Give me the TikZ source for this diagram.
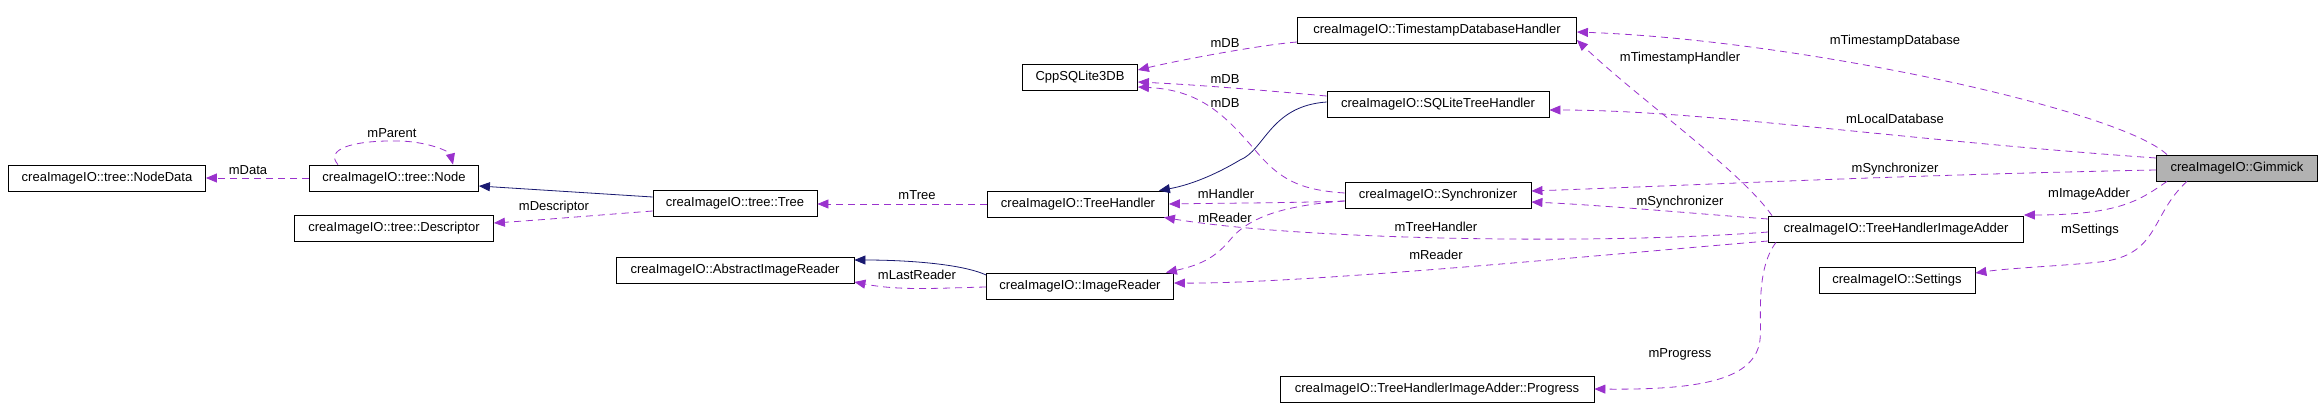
\documentclass[tikz,border=0pt]{standalone}
\usepackage{fontspec}
\setmainfont{Liberation Sans}
\usetikzlibrary{arrows.meta}
\definecolor{relcol}{RGB}{154,50,205}
\definecolor{inhcol}{RGB}{25,25,112}
\tikzset{
  cls/.style={draw, line width=0.8pt, minimum height=26pt, inner sep=0pt, font=\fontsize{13}{15}\selectfont},
  lbl/.style={inner sep=0.75pt, font=\fontsize{13}{15}\selectfont},
  uses/.style={draw=relcol, line width=0.8pt, dash pattern=on 7pt off 5pt, -{Triangle[length=11pt,width=9pt]}, arrows={-{Triangle[length=11pt,width=9pt,fill=relcol,color=relcol]}}},
  isa/.style={draw=inhcol, line width=0.8pt, -{Triangle[length=11pt,width=9pt,fill=inhcol,color=inhcol]}}
}
\begin{document}
\begin{tikzpicture}[x=1pt,y=1pt,yscale=-1,xscale=1]
\useasboundingbox (0,0) rectangle (2322,420);

% Classes
\node [cls, minimum width=197pt] (nodedata) at (107,178) {creaImageIO::tree::NodeData};
\node [cls, minimum width=169pt] (node) at (394,178) {creaImageIO::tree::Node};
\node [cls, minimum width=199pt] (descriptor) at (394,228) {creaImageIO::tree::Descriptor};
\node [cls, minimum width=164pt] (tree) at (735,203) {creaImageIO::tree::Tree};
\node [cls, minimum width=238pt] (abstractreader) at (735,270) {creaImageIO::AbstractImageReader};
\node [cls, minimum width=279pt] (timestamp) at (1437,30) {creaImageIO::TimestampDatabaseHandler};
\node [cls, minimum width=115pt] (cppdb) at (1080,77) {CppSQLite3DB};
\node [cls, minimum width=222pt] (sqlite) at (1438,104) {creaImageIO::SQLiteTreeHandler};
\node [cls, minimum width=186pt] (synchronizer) at (1438,195) {creaImageIO::Synchronizer};
\node [cls, minimum width=181pt] (treehandler) at (1078,204) {creaImageIO::TreeHandler};
\node [cls, minimum width=187pt] (imagereader) at (1080,286) {creaImageIO::ImageReader};
\node [cls, minimum width=314pt] (progress) at (1437,389) {creaImageIO::TreeHandlerImageAdder::Progress};
\node [cls, minimum width=161pt, fill=black!30] (gimmick) at (2237,168) {creaImageIO::Gimmick};
\node [cls, minimum width=255pt] (adder) at (1896,229) {creaImageIO::TreeHandlerImageAdder};
\node [cls, minimum width=156pt] (settings) at (1897,280) {creaImageIO::Settings};

% Inheritance
\draw [isa] (tree.west) ++(0,-6) -- (node.east |- 0,186);
\draw [isa] ([yshift=-2pt]sqlite.west) .. controls (1270,106) and (1265,150) .. (1240,160) .. controls (1215,175) and (1190,185) .. ([xshift=-10pt]treehandler.north east);
\draw [isa] ([yshift=-11pt]imagereader.west) .. controls (960,263) and (900,260) .. ([yshift=-10pt]abstractreader.east);

% Members
\draw [uses] (node.west) -- (nodedata.east);
\draw [uses] ([xshift=-56pt]node.north) .. controls (325,150) and (350,140) .. (400,141) .. controls (430,142) and (450,152) .. ([xshift=59pt]node.north);
\draw [uses] ([yshift=8pt]tree.west) .. controls (600,215) and (540,220) .. ([yshift=-5pt]descriptor.east);
\draw [uses] (treehandler.west) -- ([yshift=1pt]tree.east);
\draw [uses] ([yshift=1pt]imagereader.west) .. controls (940,288) and (900,291) .. ([yshift=12pt]abstractreader.east);
\draw [uses] ([yshift=12pt]timestamp.west) .. controls (1260,45) and (1180,60) .. ([yshift=-7pt]cppdb.east);
\draw [uses] ([yshift=-8pt]sqlite.west) .. controls (1260,90) and (1200,85) .. ([yshift=5pt]cppdb.east);
\draw [uses] ([yshift=-2pt]synchronizer.west) .. controls (1300,190) and (1280,180) .. (1255,150) .. controls (1225,115) and (1200,90) .. ([yshift=10pt]cppdb.east);
\draw [uses] ([yshift=6pt]synchronizer.west) .. controls (1290,203) and (1230,203) .. (treehandler.east);
\draw [uses] ([yshift=6pt]synchronizer.west) .. controls (1290,205) and (1250,215) .. (1230,240) .. controls (1215,258) and (1200,265) .. ([xshift=-8pt]imagereader.north east);
\draw [uses] ([yshift=3pt]adder.west) .. controls (1600,245) and (1300,240) .. ([xshift=-5pt]treehandler.south east);
\draw [uses] ([yshift=12pt]adder.west) .. controls (1600,255) and (1300,284) .. ([yshift=-3pt]imagereader.east);
\draw [uses] ([yshift=-10pt]adder.west) .. controls (1700,214) and (1600,205) .. ([yshift=7pt]synchronizer.east);
\draw [uses] ([xshift=-124pt]adder.north) .. controls (1740,170) and (1640,100) .. ([yshift=10pt]timestamp.east);
\draw [uses] ([xshift=-120pt]adder.south) .. controls (1755,270) and (1762,320) .. (1760,340) .. controls (1755,380) and (1700,390) .. (progress.east);
\draw [uses] ([xshift=-70pt]gimmick.north) .. controls (2120,110) and (1800,40) .. ([yshift=2pt]timestamp.east);
\draw [uses] ([yshift=-10pt]gimmick.west) .. controls (1900,140) and (1700,110) .. ([yshift=6pt]sqlite.east);
\draw [uses] ([yshift=2pt]gimmick.west) .. controls (1900,175) and (1700,185) .. ([yshift=-4pt]synchronizer.east);
\draw [uses] ([xshift=-70pt]gimmick.south) .. controls (2140,200) and (2120,215) .. ([yshift=-14pt]adder.east);
\draw [uses] ([xshift=-50pt]gimmick.south) .. controls (2150,215) and (2160,255) .. (2100,262) .. controls (2060,266) and (2010,268) .. ([yshift=-7pt]settings.east);

% Text Node
\node [lbl] (lmdata) at (248,170) {mData};
\node [lbl] (lmparent) at (392,133) {mParent};
\node [lbl] (lmdescriptor) at (554,207) {mDescriptor};
\node [lbl] (lmtree) at (917,195) {mTree};
\node [lbl] (lmlastreader) at (917,275) {mLastReader};
\node [lbl] (lmdba) at (1225,43) {mDB};
\node [lbl] (lmdbb) at (1225,79) {mDB};
\node [lbl] (lmdbc) at (1225,103) {mDB};
\node [lbl] (lmhandler) at (1226,194) {mHandler};
\node [lbl] (lmreadera) at (1225,218) {mReader};
\node [lbl] (lmtreehandler) at (1436,227) {mTreeHandler};
\node [lbl] (lmreaderb) at (1436,255) {mReader};
\node [lbl] (lmsynca) at (1680,202) {mSynchronizer};
\node [lbl] (lmtshandler) at (1680,58) {mTimestampHandler};
\node [lbl] (lmprogress) at (1680,354) {mProgress};
\node [lbl] (lmtsdb) at (1895,41) {mTimestampDatabase};
\node [lbl] (lmlocaldb) at (1895,119) {mLocalDatabase};
\node [lbl] (lmsyncb) at (1895,169) {mSynchronizer};
\node [lbl] (lmimageadder) at (2089,194) {mImageAdder};
\node [lbl] (lmsettings) at (2090,230) {mSettings};
\end{tikzpicture}
\end{document}
